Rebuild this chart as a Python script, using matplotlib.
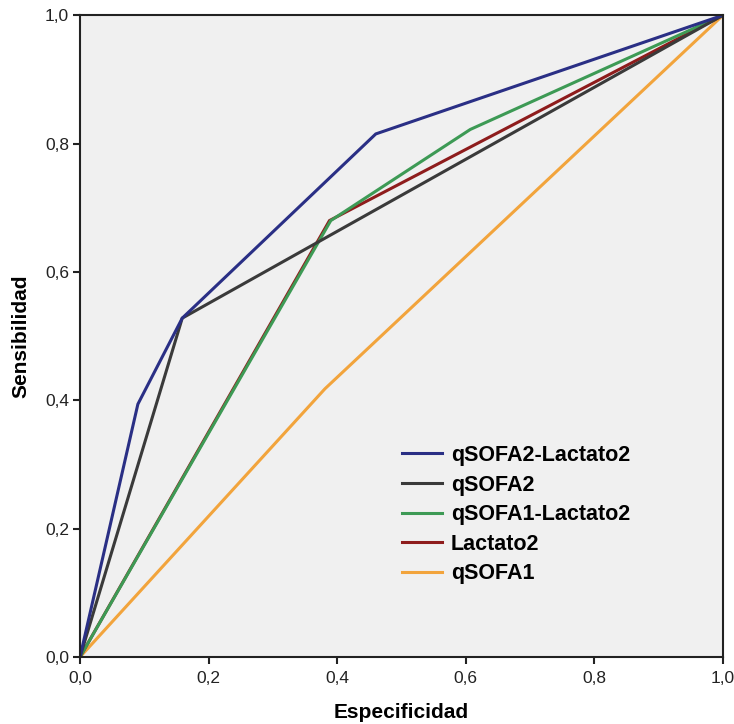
import matplotlib
matplotlib.use("Agg")
import matplotlib.pyplot as plt
from matplotlib.ticker import FuncFormatter

plt.rcParams['font.family'] = ['Liberation Sans', 'DejaVu Sans']

# ROC curves (1 - especificidad, sensibilidad)
series = ["qSOFA2-Lactato2", "qSOFA2", "qSOFA1-Lactato2", "Lactato2", "qSOFA1"]
x_q2l2 = [0.0, 0.090, 0.159, 0.460, 1.0]
y_q2l2 = [0.0, 0.394, 0.528, 0.815, 1.0]
x_q2 = [0.0, 0.159, 1.0]
y_q2 = [0.0, 0.528, 1.0]
x_q1l2 = [0.0, 0.390, 0.607, 1.0]
y_q1l2 = [0.0, 0.680, 0.822, 1.0]
x_l2 = [0.0, 0.388, 1.0]
y_l2 = [0.0, 0.680, 1.0]
x_q1 = [0.0, 0.381, 1.0]
y_q1 = [0.0, 0.418, 1.0]

colores = ["#2a2f85", "#3a3a3a", "#3d9a55", "#8e1c1c", "#f2a43c"]

fig = plt.figure(figsize=(7.34, 7.24), dpi=100)
ax = fig.add_axes([0.109, 0.0925, 0.876, 0.8865])
ax.set_facecolor("#f0f0f0")

datos = [(x_q2l2, y_q2l2), (x_q2, y_q2), (x_q1l2, y_q1l2), (x_l2, y_l2), (x_q1, y_q1)]
# draw in reverse so the first series is on top
for i in range(len(datos) - 1, -1, -1):
    xs, ys = datos[i]
    ax.plot(xs, ys, color=colores[i], lw=2.2, label=series[i], solid_joinstyle="miter")

ax.set_xlim(0, 1)
ax.set_ylim(0, 1)
ticks = [0, 0.2, 0.4, 0.6, 0.8, 1.0]
ax.set_xticks(ticks)
ax.set_yticks(ticks)
fmt = FuncFormatter(lambda v, p: ("%.1f" % v).replace(".", ","))
ax.xaxis.set_major_formatter(fmt)
ax.yaxis.set_major_formatter(fmt)
ax.tick_params(direction="out", length=5, width=1.5, pad=3, labelsize=12.5, colors="#222222")
ax.tick_params(axis="x", pad=5)

for s in ax.spines.values():
    s.set_linewidth(1.5)
    s.set_color("#222222")

ax.set_xlabel("Especificidad", fontsize=15, fontweight="bold", labelpad=12)
ax.set_ylabel("Sensibilidad", fontsize=15, fontweight="bold", labelpad=10)

h, l = ax.get_legend_handles_labels()
leg = ax.legend(h[::-1], l[::-1], loc="lower left", bbox_to_anchor=(0.47, 0.083),
                frameon=False, handlelength=1.9, handletextpad=0.4,
                labelspacing=0.4, prop={"size": 15.5, "weight": "bold"})

fig.savefig("out.png", dpi=100)
